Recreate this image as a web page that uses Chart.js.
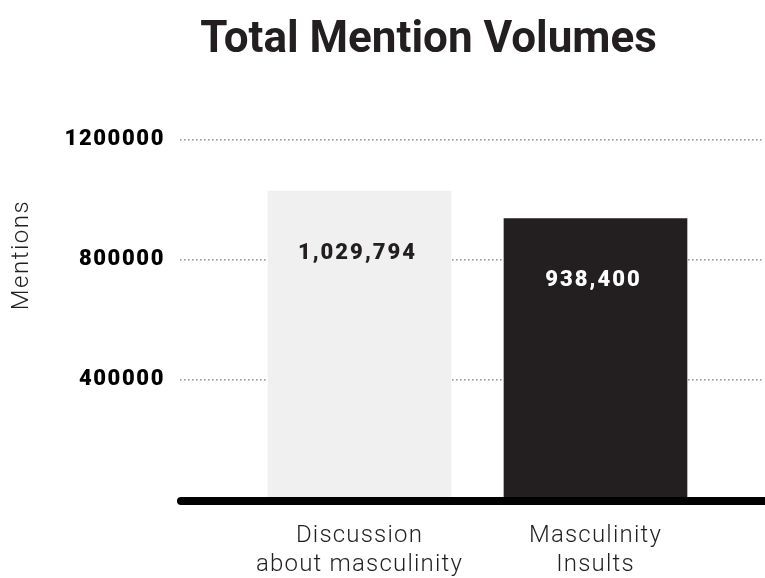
<!DOCTYPE html>
<html><head><meta charset="utf-8">
<script src="https://cdn.jsdelivr.net/npm/chart.js@4.4.1/dist/chart.umd.min.js"></script>
<style>html,body{margin:0;padding:0;background:#fff;overflow:hidden}#wrap{width:765px;height:578px;position:relative}</style>
</head><body><div id="wrap"><canvas id="c" width="765" height="578"></canvas></div>
<script>
const titleText = 'Total Mention Volumes';
const categories = [['Discussion', 'about masculinity'], ['Masculinity', 'Insults']];
const mentions = [1029794, 938400];
const valueLabels = ['1,029,794', '938,400'];
const yTicks = [400000, 800000, 1200000];
const yTitle = 'Mentions';
const barColors = ['#f0f0f0', '#231f20'];
const labelColors = ['#231f20', '#ffffff'];

const FONT = 'Roboto, "Noto Sans", sans-serif';

function withSpacing(chart, fn, spacing) {
  return function (...args) {
    const ctx = chart.ctx;
    ctx.save();
    ctx.letterSpacing = spacing;
    fn.apply(this, args);
    ctx.restore();
  };
}

const decor = {
  id: 'decor',
  afterLayout(chart) {
    const xs = chart.scales.x, ys = chart.scales.y;
    if (!xs._spaced) {
      xs.drawLabels = withSpacing(chart, xs.drawLabels, '1.2px');
      xs._spaced = true;
    }
    if (!ys._spaced) {
      ys.drawLabels = withSpacing(chart, ys.drawLabels, '1.6px');
      ys.drawTitle = withSpacing(chart, ys.drawTitle, '1.5px');
      ys._spaced = true;
    }
  },
  beforeDatasetsDraw(chart) {
    const ctx = chart.ctx, y = chart.scales.y;
    ctx.save();
    ctx.fillStyle = '#9a9a9a';
    yTicks.forEach(v => {
      const py = Math.round(y.getPixelForValue(v));
      for (let x = 180; x < 762; x += 4) ctx.fillRect(x, py - 1, 1.6, 1.6);
    });
    ctx.restore();
  },
  afterDatasetsDraw(chart) {
    const ctx = chart.ctx, y = chart.scales.y;
    const y0 = y.getPixelForValue(0);
    ctx.save();
    ctx.strokeStyle = '#000';
    ctx.lineWidth = 8;
    ctx.lineCap = 'round';
    ctx.beginPath();
    ctx.moveTo(181, y0 + 1);
    ctx.lineTo(790, y0 + 1);
    ctx.stroke();
    const meta = chart.getDatasetMeta(0);
    ctx.font = '900 22px ' + FONT;
    ctx.letterSpacing = '2px';
    ctx.textAlign = 'center';
    ctx.textBaseline = 'middle';
    meta.data.forEach((bar, i) => {
      ctx.fillStyle = labelColors[i];
      ctx.fillText(valueLabels[i], bar.x - 2, bar.y + 62);
    });
    ctx.restore();
  },
  afterDraw(chart) {
    const ctx = chart.ctx;
    ctx.save();
    ctx.letterSpacing = '0px';
    ctx.font = 'bold 44px ' + FONT;
    ctx.fillStyle = '#231f20';
    ctx.textAlign = 'center';
    ctx.textBaseline = 'alphabetic';
    ctx.fillText(titleText, 428.5, 52);
    ctx.restore();
  }
};

new Chart(document.getElementById('c'), {
  type: 'bar',
  data: {
    labels: categories,
    datasets: [{
      data: mentions,
      backgroundColor: barColors,
      borderWidth: 0,
      barThickness: 183
    }]
  },
  options: {
    responsive: false,
    devicePixelRatio: 1,
    animation: false,
    layout: { padding: { top: 10, left: 0, right: 51.5, bottom: 0 } },
    plugins: { legend: { display: false }, tooltip: { enabled: false }, title: { display: false } },
    scales: {
      x: {
        grid: { display: false, drawTicks: false },
        border: { display: false },
        ticks: {
          autoSkip: false, maxRotation: 0, minRotation: 0,
          color: '#231f20',
          padding: 22,
          font: { family: FONT, size: 24, weight: '300', lineHeight: 1.2 }
        },
        afterFit(scale) { scale.height = 78; scale.paddingTop = 0; scale.paddingBottom = 0; }
      },
      y: {
        min: 0,
        max: 1633333,
        grid: { display: false, drawTicks: false },
        border: { display: false },
        afterBuildTicks(scale) { scale.ticks = yTicks.map(v => ({ value: v })); },
        ticks: {
          color: '#000',
          padding: 76.5,
          font: { family: FONT, size: 22, weight: '900' },
          callback: v => String(v)
        },
        title: {
          display: true,
          text: yTitle,
          color: '#231f20',
          padding: { top: 8, bottom: 0 },
          font: { family: FONT, size: 24, weight: '300' }
        },
        afterFit(scale) { scale.width = 241.5; scale.paddingTop = 0; scale.paddingBottom = 0; }
      }
    }
  },
  plugins: [decor]
});
</script>
</body></html>
